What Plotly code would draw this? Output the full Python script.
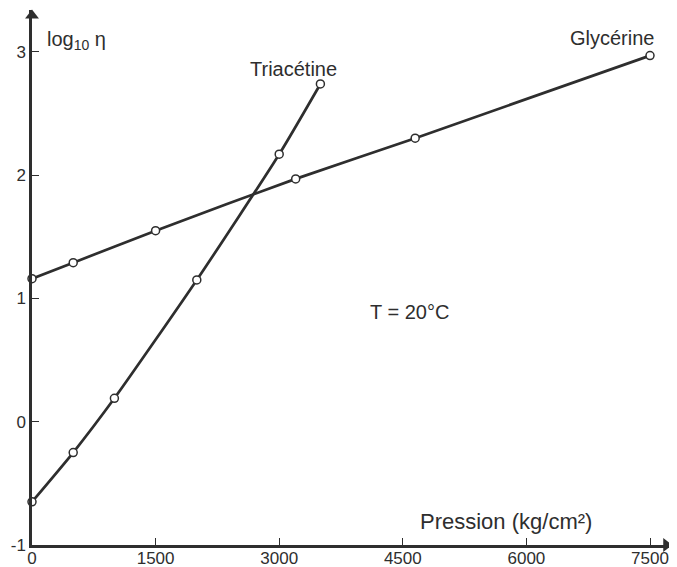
import plotly.graph_objects as go

# Data
gly_p = [0, 500, 1500, 3200, 4650, 7500]
gly_log = [1.16, 1.29, 1.55, 1.97, 2.30, 2.97]
tri_p = [0, 500, 1000, 2000, 3000, 3500]
tri_log = [-0.65, -0.25, 0.19, 1.15, 2.17, 2.74]
x_ticks = [0, 1500, 3000, 4500, 6000, 7500]
y_ticks = [-1, 0, 1, 2, 3]

X_MAX = 7767
Y_MIN, Y_MAX = -1, 3.34

ink = "#2e2e2e"
fam = "Liberation Sans, Arial, sans-serif"
tick_font = dict(family=fam, size=17, color=ink)
lab_font = dict(family=fam, size=20, color=ink)

fig = go.Figure()
for xs, ys in [(gly_p, gly_log), (tri_p, tri_log)]:
    fig.add_trace(go.Scatter(
        x=xs, y=ys, mode="lines+markers",
        line=dict(color=ink, width=2.7, shape="spline", smoothing=0.6),
        marker=dict(symbol="circle", size=8, color="white",
                    line=dict(color=ink, width=1.5)),
        showlegend=False, cliponaxis=False))

# axis arrow heads at the ends of both axes
fig.add_trace(go.Scatter(
    x=[X_MAX - 70, 0], y=[Y_MIN, Y_MAX - 0.045], mode="markers",
    marker=dict(symbol=["triangle-right", "triangle-up"], size=12, color=ink,
                line=dict(width=0)),
    showlegend=False, cliponaxis=False, hoverinfo="skip"))

annotations = [
    dict(x=160, y=3.09, text="log<sub>10</sub> η", xanchor="left", showarrow=False),
    dict(x=3170, y=2.86, text="Triacétine", showarrow=False),
    dict(x=7040, y=3.11, text="Glycérine", showarrow=False),
    dict(x=4580, y=0.89, text="T = 20°C", showarrow=False),
    dict(x=5750, y=-0.81, text="Pression (kg/cm²)", showarrow=False,
         font=dict(family=fam, size=22, color=ink)),
]
for a in annotations:
    a.setdefault("font", lab_font)

# The page body has an 8px margin, so the figure is sized to end at the window edge
fig.update_layout(
    width=669, height=559,
    margin=dict(l=24, r=5, t=2, b=22),
    paper_bgcolor="white", plot_bgcolor="white",
    font=tick_font,
    annotations=annotations,
    xaxis=dict(range=[0, X_MAX], tickvals=x_ticks, ticktext=[str(v) for v in x_ticks],
               ticks="inside", ticklen=7, tickwidth=1.2, tickcolor=ink,
               ticklabelstandoff=-4,
               showline=True, linecolor=ink, linewidth=2.5, automargin=False,
               showgrid=False, zeroline=False, tickfont=tick_font),
    yaxis=dict(range=[Y_MIN, Y_MAX], tickvals=y_ticks, ticktext=["-1", "0", "1", "2", "3"],
               ticks="inside", ticklen=7, tickwidth=1.2, tickcolor=ink,
               showline=True, linecolor=ink, linewidth=2.5, automargin=False,
               showgrid=False, zeroline=False, tickfont=tick_font),
)
fig.write_html("out.html")
